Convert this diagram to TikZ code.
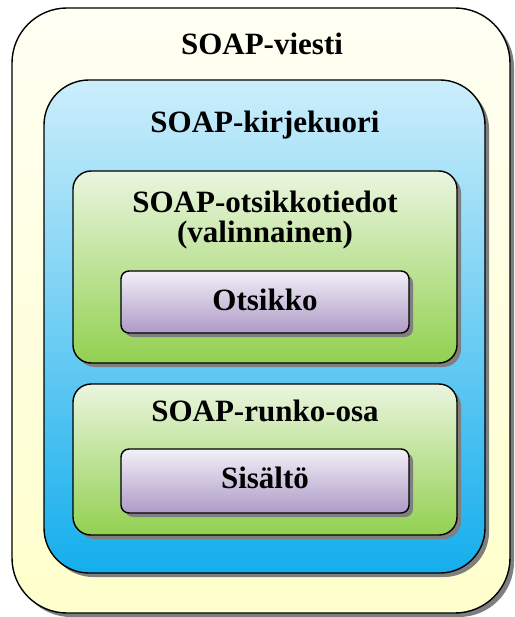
\documentclass[tikz,border=0pt]{standalone}
\usepackage{fontspec}
\setmainfont{Liberation Serif}
\usetikzlibrary{shadows}

\definecolor{ivoryTop}{HTML}{FFFFF4}
\definecolor{ivoryBot}{HTML}{FFFFCC}
\definecolor{blueTop}{HTML}{CCEEFB}
\definecolor{blueBot}{HTML}{14AEEC}
\definecolor{greenTop}{HTML}{EAF5DF}
\definecolor{greenBot}{HTML}{92D050}
\definecolor{lilacTop}{HTML}{F2F0F8}
\definecolor{lilacBot}{HTML}{AE9AC6}
\definecolor{shadowGray}{HTML}{7F7F7F}

\tikzset{
  layer/.style={rectangle, draw=black, line width=1.4pt, inner sep=0pt,
    drop shadow={shadow xshift=4pt, shadow yshift=-4pt, fill=shadowGray, opacity=1}},
  msgbox/.style={layer, rounded corners=55pt, top color=ivoryTop, bottom color=ivoryBot},
  envbox/.style={layer, rounded corners=45pt, top color=blueTop, bottom color=blueBot},
  partbox/.style={layer, rounded corners=18pt, top color=greenTop, bottom color=greenBot},
  itembox/.style={layer, rounded corners=8pt, top color=lilacTop, bottom color=lilacBot},
  caption/.style={anchor=base, font=\fontsize{31}{35}\selectfont\bfseries, inner sep=0pt}
}

\begin{document}
\begin{tikzpicture}[x=1pt, y=-1pt]
  \useasboundingbox (0,0) rectangle (514,617);

  % nested boxes, outermost first
  \node[msgbox, minimum width=498pt, minimum height=605pt] (viesti) at (261,310.5) {};
  \node[envbox, minimum width=441pt, minimum height=493pt] (kuori) at (264.5,326.5) {};
  \node[partbox, minimum width=384pt, minimum height=192pt] (otsake) at (265,267) {};
  \node[partbox, minimum width=384pt, minimum height=151pt] (runko) at (265,459.5) {};
  \node[itembox, minimum width=288pt, minimum height=62pt] (otsikko) at (265,302) {};
  \node[itembox, minimum width=288pt, minimum height=64pt] (sisalto) at (265,481) {};

  % box captions
  \node[caption] (tviesti) at (262,55) {SOAP-viesti};
  \node[caption] (tkuori) at (265,133) {SOAP-kirjekuori};
  \node[caption] (totsake) at (265,213) {SOAP-otsikkotiedot};
  \node[caption] (tvalinn) at (265,242) {(valinnainen)};
  \node[caption] (trunko) at (265,421) {SOAP-runko-osa};
  \node[caption] (totsikko) at (265,310) {Otsikko};
  \node[caption] (tsisalto) at (265,488) {Sisältö};
\end{tikzpicture}
\end{document}
